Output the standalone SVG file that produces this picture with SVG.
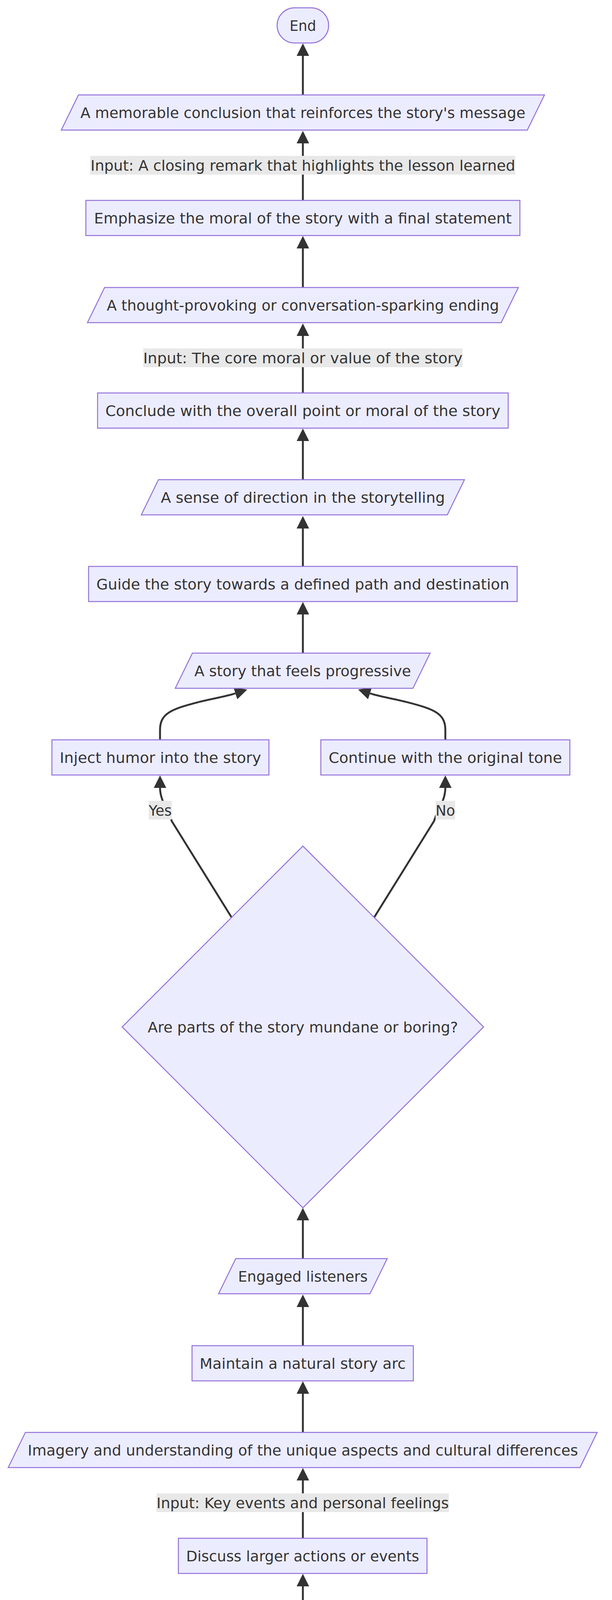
<svg xmlns="http://www.w3.org/2000/svg" width="1568" height="7630" viewBox="0 0 1568 7630">
<style>
.bg{fill:#ffffff}
.nd rect,.nd polygon{fill:#ECECFF;stroke:#9370DB;stroke-width:2.5}
.t{font-family:"DejaVu Sans","Liberation Sans",sans-serif;font-size:38px;fill:#333333;text-anchor:middle}
.e{fill:none;stroke:#333333;stroke-width:4.9}
.lb rect{fill:#e8e8e8;stroke:none}
</style>
<defs>
<marker id="ah" viewBox="0 0 10 10" refX="0" refY="5" markerWidth="32" markerHeight="32" markerUnits="userSpaceOnUse" orient="auto">
<path d="M0,0 L10,5 L0,10 z" fill="#333333"/>
</marker>
</defs>
<rect class="bg" x="0" y="0" width="1568" height="7630"/>
<g id="edges">
<path class="e" marker-end="url(#ah)" d="M776,7440 L776,7341"/>
<path class="e" marker-end="url(#ah)" d="M776,7218 L776,7120"/>
<path class="e" marker-end="url(#ah)" d="M776,6996 L776,6897"/>
<path class="e" marker-end="url(#ah)" d="M776,6774 L776,6677"/>
<path class="e" marker-end="url(#ah)" d="M776,6553 L776,6453"/>
<path class="e" marker-end="url(#ah)" d="M776,6331 L776,6183"/>
<path class="e" marker-end="url(#ah)" d="M776,6060 L776,5961"/>
<path class="e" marker-end="url(#ah)" d="M655,4998 C620,4840 595,4800 592,4726"/>
<path class="e" marker-end="url(#ah)" d="M898,4998 C945,4790 961,4740 961,4640 L961,4578 C961,4540 907,4520 880,4490"/>
<path class="e" marker-end="url(#ah)" d="M591,4604 L591,4578 C591,4540 645,4520 672,4490"/>
<path class="e" marker-end="url(#ah)" d="M776,4382 L776,4283"/>
<path class="e" marker-end="url(#ah)" d="M776,4160 L776,4061"/>
<path class="e" marker-end="url(#ah)" d="M776,3938 L776,3790"/>
<path class="e" marker-end="url(#ah)" d="M776,3667 L776,3568"/>
<path class="e" marker-end="url(#ah)" d="M776,3445 L776,3346"/>
<path class="e" marker-end="url(#ah)" d="M776,3222 L776,3124"/>
<path class="e" marker-end="url(#ah)" d="M593,2348 L440,2102 C432,2075 410,2050 410,2017"/>
<path class="e" marker-end="url(#ah)" d="M959,2348 L1112,2102 C1120,2075 1141,2050 1141,2017"/>
<path class="e" marker-end="url(#ah)" d="M410,1894 L410,1868 C410,1826 440,1815 510,1797 C545,1788 575,1784 603,1775"/>
<path class="e" marker-end="url(#ah)" d="M1141,1894 L1141,1868 C1141,1826 1111,1815 1041,1797 C1006,1788 976,1784 948,1775"/>
<path class="e" marker-end="url(#ah)" d="M776,1673 L776,1573"/>
<path class="e" marker-end="url(#ah)" d="M776,1450 L776,1353"/>
<path class="e" marker-end="url(#ah)" d="M776,1229 L776,1129"/>
<path class="e" marker-end="url(#ah)" d="M776,1006 L776,860"/>
<path class="e" marker-end="url(#ah)" d="M776,736 L776,636"/>
<path class="e" marker-end="url(#ah)" d="M776,513 L776,367"/>
<path class="e" marker-end="url(#ah)" d="M776,243 L776,143"/>
<g class="lb" id="lbl-closing"><rect x="231" y="399" width="1089" height="48"/><text class="t" x="776" y="437" textLength="1088" lengthAdjust="spacingAndGlyphs">Input: A closing remark that highlights the lesson learned</text></g>
<g class="lb" id="lbl-core"><rect x="367" y="892" width="818" height="48"/><text class="t" x="776" y="930" textLength="818" lengthAdjust="spacingAndGlyphs">Input: The core moral or value of the story</text></g>
<g class="lb" id="lbl-yes1"><rect x="381" y="2050" width="59" height="48"/><text class="t" x="410.5" y="2088" textLength="59" lengthAdjust="spacingAndGlyphs">Yes</text></g>
<g class="lb" id="lbl-no1"><rect x="1116" y="2050" width="50" height="48"/><text class="t" x="1141" y="2088" textLength="50" lengthAdjust="spacingAndGlyphs">No</text></g>
<g class="lb" id="lbl-key"><rect x="401" y="3823" width="749" height="48"/><text class="t" x="775.5" y="3861" textLength="749" lengthAdjust="spacingAndGlyphs">Input: Key events and personal feelings</text></g>
<g class="lb" id="lbl-no2"><rect x="936" y="4624" width="50" height="48"/><text class="t" x="961" y="4662" textLength="50" lengthAdjust="spacingAndGlyphs">No</text></g>
<g class="lb" id="lbl-yes2"><rect x="562" y="4760" width="59" height="48"/><text class="t" x="591.5" y="4798" textLength="59" lengthAdjust="spacingAndGlyphs">Yes</text></g>
<g class="lb" id="lbl-exciting"><rect x="451" y="6216" width="649" height="48"/><text class="t" x="775.5" y="6254" textLength="649" lengthAdjust="spacingAndGlyphs">Input: Exciting aspect of the story</text></g>
</g>
<g id="n-end" class="nd"><rect x="710" y="20" width="132" height="90" rx="45" ry="45"/><text class="t" x="776" y="79" textLength="68" lengthAdjust="spacingAndGlyphs">End</text></g>
<g id="n-memorable" class="nd"><polygon points="201,243 1395,243 1351,333 157,333"/><text class="t" x="776" y="302" textLength="1140" lengthAdjust="spacingAndGlyphs">A memorable conclusion that reinforces the story's message</text></g>
<g id="n-emphasize" class="nd"><rect x="220" y="513" width="1112" height="90"/><text class="t" x="776" y="572" textLength="1070" lengthAdjust="spacingAndGlyphs">Emphasize the moral of the story with a final statement</text></g>
<g id="n-thought" class="nd"><polygon points="268,736 1328,736 1284,826 224,826"/><text class="t" x="776" y="795" textLength="1005" lengthAdjust="spacingAndGlyphs">A thought-provoking or conversation-sparking ending</text></g>
<g id="n-conclude" class="nd"><rect x="250" y="1006" width="1052" height="90"/><text class="t" x="776" y="1065" textLength="1012" lengthAdjust="spacingAndGlyphs">Conclude with the overall point or moral of the story</text></g>
<g id="n-direction" class="nd"><polygon points="406,1228 1190,1228 1146,1318 362,1318"/><text class="t" x="776" y="1287" textLength="728" lengthAdjust="spacingAndGlyphs">A sense of direction in the storytelling</text></g>
<g id="n-guide" class="nd"><rect x="227" y="1450" width="1098" height="90"/><text class="t" x="776" y="1509" textLength="1058" lengthAdjust="spacingAndGlyphs">Guide the story towards a defined path and destination</text></g>
<g id="n-progressive" class="nd"><polygon points="493,1672 1102,1672 1058,1762 449,1762"/><text class="t" x="775.5" y="1731" textLength="555" lengthAdjust="spacingAndGlyphs">A story that feels progressive</text></g>
<g id="n-humor" class="nd"><rect x="133" y="1894" width="556" height="90"/><text class="t" x="411" y="1953" textLength="516" lengthAdjust="spacingAndGlyphs">Inject humor into the story</text></g>
<g id="n-tone" class="nd"><rect x="822" y="1894" width="638" height="90"/><text class="t" x="1141" y="1953" textLength="598" lengthAdjust="spacingAndGlyphs">Continue with the original tone</text></g>
<g id="n-mundane" class="nd"><polygon points="776,2166 1239,2629 776,3092 313,2629"/><text class="t" x="776" y="2643" textLength="795" lengthAdjust="spacingAndGlyphs">Are parts of the story mundane or boring?</text></g>
<g id="n-engaged" class="nd"><polygon points="604,3222 992,3222 948,3312 560,3312"/><text class="t" x="776" y="3281" textLength="332" lengthAdjust="spacingAndGlyphs">Engaged listeners</text></g>
<g id="n-arc" class="nd"><rect x="492" y="3445" width="567" height="90"/><text class="t" x="775.5" y="3504" textLength="528" lengthAdjust="spacingAndGlyphs">Maintain a natural story arc</text></g>
<g id="n-imagery" class="nd"><polygon points="65,3667 1530,3667 1486,3757 21,3757"/><text class="t" x="776" y="3726" textLength="1410" lengthAdjust="spacingAndGlyphs">Imagery and understanding of the unique aspects and cultural differences</text></g>
<g id="n-discuss" class="nd"><rect x="457" y="3938" width="637" height="90"/><text class="t" x="775.5" y="3997" textLength="597" lengthAdjust="spacingAndGlyphs">Discuss larger actions or events</text></g>
<g id="n-backstory" class="nd"><polygon points="489,4159 1106,4159 1062,4249 445,4249"/><text class="t" x="775.5" y="4218" textLength="563" lengthAdjust="spacingAndGlyphs">A clear and concise backstory</text></g>
<g id="n-relevant" class="nd"><rect x="466" y="4381" width="619" height="90"/><text class="t" x="775.5" y="4440" textLength="579" lengthAdjust="spacingAndGlyphs">Continue with relevant details</text></g>
<g id="n-skip" class="nd"><rect x="340" y="4603" width="502" height="90"/><text class="t" x="591" y="4662" textLength="462" lengthAdjust="spacingAndGlyphs">Skip unnecessary details</text></g>
<g id="n-bog" class="nd"><polygon points="776,4875 1302,5401 776,5927 250,5401"/><text class="t" x="776" y="5415" textLength="924" lengthAdjust="spacingAndGlyphs">Are there details that could bog down the story?</text></g>
<g id="n-narrate" class="nd"><rect x="355" y="6060" width="842" height="90"/><text class="t" x="776" y="6119" textLength="802" lengthAdjust="spacingAndGlyphs">Narrate the events leading up to the hook</text></g>
<g id="n-relate" class="nd"><rect x="435" y="6331" width="682" height="90"/><text class="t" x="776" y="6390" textLength="642" lengthAdjust="spacingAndGlyphs">Relate the hook to the main story</text></g>
<g id="n-original" class="nd"><polygon points="360,6552 1236,6552 1192,6642 316,6642"/><text class="t" x="776" y="6611" textLength="820" lengthAdjust="spacingAndGlyphs">An original and intriguing start to the story</text></g>
<g id="n-cliche" class="nd"><rect x="509" y="6774" width="533" height="90"/><text class="t" x="775.5" y="6833" textLength="493" lengthAdjust="spacingAndGlyphs">Avoid cliché introductions</text></g>
<g id="n-hook" class="nd"><polygon points="335,6996 1261,6996 1217,7086 291,7086"/><text class="t" x="776" y="7055" textLength="870" lengthAdjust="spacingAndGlyphs">A hook that captures the audience's attention</text></g>
<g id="n-craft" class="nd"><rect x="335" y="7218" width="881" height="90"/><text class="t" x="775.5" y="7277" textLength="841" lengthAdjust="spacingAndGlyphs">Craft an engaging and shocking introduction</text></g>
<g id="n-start" class="nd"><rect x="698" y="7440" width="155" height="90" rx="45" ry="45"/><text class="t" x="775.5" y="7499" textLength="93" lengthAdjust="spacingAndGlyphs">Start</text></g>
</svg>
